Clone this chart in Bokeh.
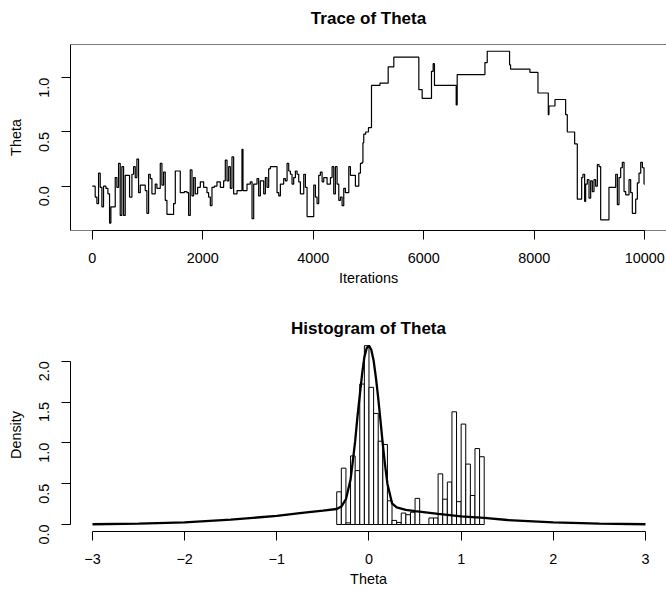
import math
from bokeh.plotting import figure
from bokeh.layouts import column
from bokeh.models import Range1d, FixedTicker, Span, Title, LinearAxis
from bokeh.embed import file_html
from bokeh.resources import INLINE

# ---------------- data ----------------
# MCMC trace: iterations where theta changes and the new value
trace_iter = [0, 54, 85, 115, 145, 175, 205, 248, 284, 314, 338, 417, 447, 477, 507, 537, 568, 598,
              676, 719, 749, 779, 809, 839, 870, 960, 990, 1021, 1051, 1081, 1141, 1171, 1232, 1262,
              1292, 1322, 1353, 1473, 1504, 1594, 1667, 1715, 1745, 1775, 1806, 1836, 1866, 1908,
              1957, 2017, 2077, 2107, 2138, 2168, 2210, 2258, 2319, 2379, 2409, 2440, 2470, 2500,
              2530, 2560, 2621, 2711, 2729, 2802, 2862, 2893, 2923, 2983, 3013, 3043, 3104, 3134,
              3164, 3194, 3225, 3345, 3376, 3406, 3466, 3496, 3527, 3557, 3587, 3617, 3647, 3678,
              3708, 3738, 3768, 3829, 3859, 3889, 4010, 4040, 4070, 4100, 4130, 4161, 4191, 4251,
              4312, 4342, 4372, 4402, 4432, 4463, 4493, 4523, 4553, 4583, 4644, 4674, 4764, 4825,
              4855, 4886, 4900, 4915, 4950, 5000, 5055, 5208, 5357, 5459, 5912, 5972, 6141, 6171,
              6195, 6588, 6606, 7108, 7150, 7554, 7572, 7923, 8068, 8255, 8267, 8376, 8569, 8599,
              8732, 8780, 8859, 8882, 8913, 8931, 8961, 8992, 9022, 9052, 9082, 9112, 9143, 9173,
              9203, 9353, 9475, 9505, 9535, 9565, 9595, 9626, 9656, 9716, 9746, 9776, 9837, 9867,
              9897, 9928, 9958, 9988, 10000]
trace_theta = [0.00, -0.10, -0.16, 0.12, -0.01, -0.19, 0.00, -0.02, -0.07, -0.34, -0.19, 0.08, -0.01,
               0.21, -0.27, 0.18, -0.27, 0.10, -0.10, 0.11, 0.18, 0.08, 0.25, -0.06, 0.01, -0.04,
               -0.25, 0.11, 0.07, -0.07, 0.02, -0.02, 0.21, 0.01, 0.13, -0.13, -0.26, -0.16, 0.14,
               -0.06, -0.05, -0.06, -0.27, 0.15, -0.09, 0.08, -0.07, -0.01, 0.04, -0.01, -0.06,
               -0.10, -0.18, -0.01, 0.00, 0.04, -0.01, 0.05, 0.24, 0.05, 0.18, -0.02, 0.27, -0.07,
               -0.04, 0.34, -0.04, 0.02, 0.04, -0.30, 0.02, 0.07, -0.09, 0.05, -0.07, 0.08, -0.01,
               0.16, 0.18, -0.06, -0.09, 0.02, 0.07, 0.05, 0.21, 0.14, 0.11, 0.02, 0.08, 0.14, 0.11,
               0.04, -0.07, 0.11, -0.01, -0.28, 0.01, -0.10, -0.16, 0.10, 0.13, 0.04, 0.08, 0.02,
               0.08, 0.18, -0.07, 0.18, 0.02, -0.13, -0.10, -0.18, -0.02, -0.06, 0.18, 0.10, 0.00,
               0.12, 0.21, 0.22, 0.40, 0.48, 0.50, 0.54, 0.93, 0.95, 1.10, 1.19, 0.89, 0.81, 1.06,
               1.13, 0.93, 0.75, 1.03, 1.14, 1.245, 1.12, 1.08, 1.05, 0.86, 0.66, 0.74, 0.80, 0.66,
               0.50, 0.39, -0.12, 0.08, 0.11, -0.14, 0.02, 0.06, -0.11, 0.05, -0.05, 0.06, 0.00,
               0.20, 0.18, -0.31, -0.01, 0.11, -0.17, 0.08, 0.17, 0.22, -0.05, -0.08, 0.06, -0.06,
               -0.25, -0.12, 0.03, 0.12, 0.22, 0.17, 0.02, 0.02]

# histogram (density scale)
hist_edges = [-0.35, -0.30, -0.25, -0.20, -0.15, -0.10, -0.05, 0.00, 0.05, 0.10, 0.15, 0.20, 0.25,
              0.30, 0.35, 0.40, 0.45, 0.50, 0.55, 0.60, 0.65, 0.70, 0.75, 0.80, 0.85, 0.90, 0.95,
              1.00, 1.05, 1.10, 1.15, 1.20, 1.25]
hist_density = [0.40, 0.69, 0.02, 0.84, 0.66, 1.72, 2.19, 1.68, 1.36, 1.02, 0.98, 0.29, 0.05, 0.025,
                0.14, 0.12, 0.15, 0.32, 0.0, 0.0, 0.08, 0.08, 0.62, 0.31, 0.52, 1.38, 0.28, 1.23,
                0.74, 0.355, 0.93, 0.83]

# density curve
dens_x = [-3.0, -2.5, -2.0, -1.5, -1.0, -0.75, -0.5, -0.35, -0.3, -0.25, -0.2, -0.175, -0.15, -0.125,
          -0.1, -0.075, -0.05, -0.025, 0.0, 0.025, 0.05, 0.075, 0.1, 0.125, 0.15, 0.175, 0.2, 0.25,
          0.3, 0.4, 0.5, 0.75, 1.0, 1.25, 1.5, 2.0, 2.5, 3.0]
dens_y = [0.003, 0.01, 0.027, 0.06, 0.105, 0.14, 0.17, 0.19, 0.22, 0.31, 0.55, 0.78, 1.02, 1.32,
          1.58, 1.84, 2.05, 2.16, 2.19, 2.14, 2.01, 1.80, 1.55, 1.27, 0.98, 0.72, 0.50, 0.26,
          0.21, 0.18, 0.165, 0.13, 0.10, 0.08, 0.055, 0.025, 0.01, 0.003]

trace_xticks = [0, 2000, 4000, 6000, 8000, 10000]
trace_yticks = [0.0, 0.5, 1.0]
hist_xticks = [-3, -2, -1, 0, 1, 2, 3]
hist_yticks = [0.0, 0.5, 1.0, 1.5, 2.0]

FONT = "Liberation Sans"
TICK_SIZE = "14.4px"


def style(p, xlabel, ylabel):
    p.xgrid.visible = False
    p.ygrid.visible = False
    for ax in (p.xaxis[0], p.yaxis[0]):
        ax.axis_line_color = "black"
        ax.axis_line_width = 1
        ax.major_tick_line_color = "black"
        ax.major_tick_out = 9
        ax.major_tick_in = 0
        ax.minor_tick_line_color = None
        ax.major_label_text_font = FONT
        ax.major_label_text_font_size = TICK_SIZE
        ax.major_label_text_color = "black"
        ax.axis_label_text_font = FONT
        ax.axis_label_text_font_size = TICK_SIZE
        ax.axis_label_text_font_style = "normal"
        ax.axis_label_text_color = "black"
    p.xaxis[0].major_label_standoff = 13
    p.yaxis[0].major_label_standoff = 17
    p.yaxis[0].major_label_orientation = math.pi / 2
    p.xaxis[0].axis_label = xlabel
    p.yaxis[0].axis_label = ylabel
    p.xaxis[0].axis_label_standoff = 4
    p.yaxis[0].axis_label_standoff = 8


# ---------------- trace plot ----------------
x0_1, x1_1 = -392.8, 10394.5
y0_1, y1_1 = -0.4087, 1.3072
p1 = figure(width=666, height=300, output_backend="svg", toolbar_location=None,
            x_range=Range1d(x0_1, x1_1), y_range=Range1d(y0_1, y1_1),
            min_border_left=70, min_border_right=0, min_border_top=44, min_border_bottom=70,
            background_fill_color="white", border_fill_color="white")
p1.outline_line_color = None
p1.step(trace_iter, trace_theta, mode="after", line_color="black", line_width=1.2)
for loc, dim in ((y1_1, "width"), (y0_1, "width"), (x0_1, "height")):
    p1.add_layout(Span(location=loc, dimension=dim, line_color="black", line_width=1))
style(p1, "Iterations", "Theta")
p1.xaxis[0].ticker = FixedTicker(ticks=trace_xticks)
p1.xaxis[0].bounds = (0, 10000)
p1.yaxis[0].ticker = FixedTicker(ticks=trace_yticks)
p1.yaxis[0].major_label_overrides = {0: "0.0", 0.5: "0.5", 1: "1.0"}
# main title drawn as the label of a tick-less axis above the frame
title_axis = LinearAxis(ticker=FixedTicker(ticks=[]), axis_label="Trace of Theta",
                        axis_line_color=None, major_tick_line_color=None,
                        minor_tick_line_color=None, major_tick_out=0, major_tick_in=0,
                        major_label_standoff=0, axis_label_standoff=17,
                        axis_label_text_font=FONT, axis_label_text_font_size="17px",
                        axis_label_text_font_style="bold", axis_label_text_color="black")
p1.add_layout(title_axis, "above")

# ---------------- histogram ----------------
x0_2, x1_2 = -3.2386, 3.228
y0_2, y1_2 = -0.0857, 2.278
p2 = figure(width=666, height=291, output_backend="svg", toolbar_location=None,
            x_range=Range1d(x0_2, x1_2), y_range=Range1d(y0_2, y1_2),
            min_border_left=70, min_border_right=0, min_border_top=38, min_border_bottom=60,
            background_fill_color="white", border_fill_color="white")
p2.outline_line_color = None
p2.quad(left=hist_edges[:-1], right=hist_edges[1:], bottom=0, top=hist_density,
        fill_color="white", line_color="black", line_width=1)
p2.line(dens_x, dens_y, line_color="black", line_width=2.3)
style(p2, "Theta", "Density")
p2.add_layout(Title(text="Histogram of Theta", align="center", text_font=FONT,
                    text_font_size="17px", text_font_style="bold", text_color="black",
                    standoff=2), "above")
p2.xaxis[0].ticker = FixedTicker(ticks=hist_xticks)
p2.xaxis[0].bounds = (-3, 3)
p2.xaxis[0].major_label_overrides = {t: (str(t) if t >= 0 else "\u2212" + str(-t)) for t in hist_xticks}
p2.yaxis[0].ticker = FixedTicker(ticks=hist_yticks)
p2.yaxis[0].bounds = (0, 2)
p2.yaxis[0].major_label_overrides = {0: "0.0", 0.5: "0.5", 1: "1.0", 1.5: "1.5", 2: "2.0"}

layout = column(p1, p2, spacing=0)
open("out.html", "w").write(file_html(layout, INLINE))
